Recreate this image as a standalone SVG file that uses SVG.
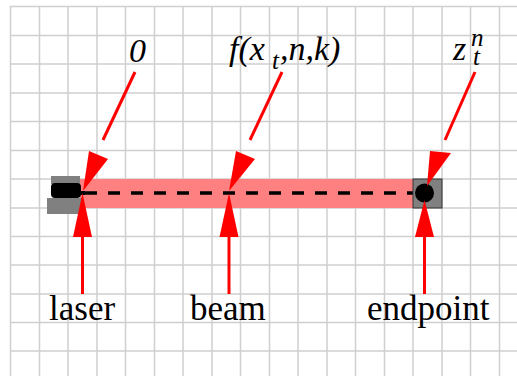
<svg xmlns="http://www.w3.org/2000/svg" width="517" height="376" viewBox="0 0 517 376">
<defs>
<style>
.g{stroke:#cfcfcf;stroke-width:1.5;fill:none}
.a{stroke:#f00;stroke-width:3;fill:none}
.h{fill:#f00;stroke:none}
.t{font-family:"Liberation Serif",serif;font-size:35px;fill:#000}
.i{font-family:"Liberation Serif",serif;font-size:34px;font-style:italic;fill:#000}
.s{font-family:"Liberation Serif",serif;font-size:25px;font-style:italic;fill:#000}
</style>
</defs>
<rect width="517" height="376" fill="#fff"/>
<g id="grid" class="g">
<path d="M10.5 6V376M39.5 6V376M68 6V376M97 6V376M125.5 6V376M154.5 6V376M183 6V376M212 6V376M240.5 6V376M269.5 6V376M298 6V376M327 6V376M355.5 6V376M384.5 6V376M413 6V376M442 6V376M470.5 6V376M499.5 6V376"/>
<path d="M10 6.5H517M10 35.5H517M10 64H517M10 93H517M10 121.5H517M10 150.5H517M10 179H517M10 208H517M10 236.5H517M10 265H517M10 294H517M10 322.5H517M10 351H517"/>
</g>
<g id="beam"><rect x="80" y="179" width="333" height="29" fill="#ff8080"/>
<path d="M85 193H413" stroke="#000" stroke-width="3.5" stroke-dasharray="12 11" fill="none"/></g>
<g id="laser">
<rect x="51" y="176" width="29" height="8" fill="#808080"/>
<rect x="47" y="198" width="36" height="16" fill="#808080"/>
<rect x="51" y="183" width="30" height="15" rx="4" fill="#000"/>
<rect x="80" y="191" width="5" height="4" fill="#000"/>
</g>
<g id="endpoint">
<rect x="413" y="179" width="29" height="29" fill="#808080" stroke="#333" stroke-width="1"/>
<circle cx="424.500" cy="193" r="9.500" fill="#000"/>
</g>
<g id="connectors">
<path class="a" d="M135 72L103 140"/><path class="h" d="M83 191L89 151L108 159Z"/>
<path class="a" d="M282 72L250 140"/><path class="h" d="M229 191L236 151L255 159Z"/>
<path class="a" d="M475 72L445 140"/><path class="h" d="M427 186L430 151L451 153Z"/>
<path class="a" d="M82.500 294V237"/><path class="h" d="M82.500 193L92 237H73Z"/>
<path class="a" d="M229 294V237"/><path class="h" d="M229 193L238.500 237H219.500Z"/>
<path class="a" d="M424.500 294V237"/><path class="h" d="M424.500 200L434 237H415Z"/>
</g>
<g id="labels">
<text class="i" x="129" y="62">0</text>
<text class="i" x="229" y="60">f(x</text>
<text class="s" x="272" y="69">t</text>
<text class="i" x="280" y="60">,n,k)</text>
<text class="i" x="453" y="60">z</text>
<text class="s" x="471" y="46">n</text>
<text class="s" x="473" y="65">t</text>
<text class="t" x="49" y="320">laser</text>
<text class="t" x="190" y="320">beam</text>
<text class="t" x="367" y="320">endpoint</text>
</g>
</svg>
